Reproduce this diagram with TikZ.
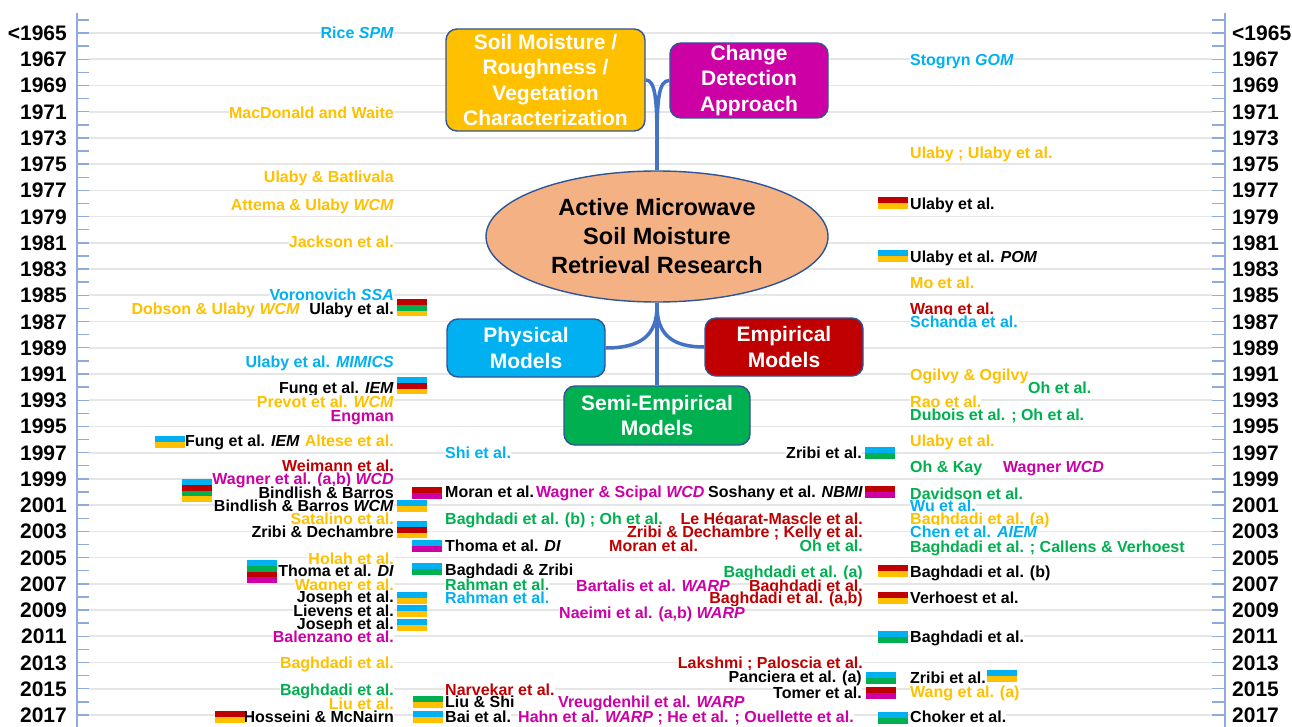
\documentclass[tikz,border=0pt]{standalone}
\usepackage{fontspec}
\setmainfont{Liberation Sans}
\usetikzlibrary{shapes.geometric}
\definecolor{cBlue}{RGB}{0,176,240}
\definecolor{cYellow}{RGB}{255,192,0}
\definecolor{cRed}{RGB}{192,0,0}
\definecolor{cGreen}{RGB}{0,176,80}
\definecolor{cMag}{RGB}{204,0,165}
\definecolor{cLink}{RGB}{68,114,196}
\definecolor{cBorder}{RGB}{47,85,151}
\definecolor{cEll}{RGB}{244,177,131}
\definecolor{cGrid}{RGB}{230,230,230}
\definecolor{cAxis}{RGB}{143,170,220}
\newcommand\entfont{\fontsize{16}{18}\selectfont\bfseries}
\newcommand\yearfont{\fontsize{21}{24}\selectfont\bfseries}
\newcommand\flagbar[3]{%
  \foreach \c [count=\i from 0] in {#3}{\fill[\c] (#1,#2+\i*5.8) rectangle ++(30,5.8);}}
\tikzset{
  entry/.style={font=\entfont, inner xsep=0pt, inner ysep=0.8pt, text height=11.5pt, text depth=0pt, text=black, fill=white},
  le/.style={entry, anchor=east},
  re/.style={entry, anchor=west},
  yearL/.style={font=\yearfont, inner sep=0pt, text height=15pt, text depth=0pt, anchor=east},
  yearR/.style={font=\yearfont, inner sep=0pt, text height=15pt, text depth=0pt, anchor=west},
  grid/.style={draw=cGrid, line width=1.7pt},
  axis/.style={draw=cAxis, line width=1.4pt},
  box/.style={rectangle, rounded corners=11pt, draw=cBorder, line width=1.4pt, text=white,
    font=\fontsize{21}{25.5}\selectfont\bfseries, align=center, inner sep=0pt},
  link/.style={draw=cLink, line width=3.5pt}
}
\begin{document}
\begin{tikzpicture}[x=1pt,y=-1pt]
\fill[white] (0,0) rectangle (1292,727);
\useasboundingbox (0,0) rectangle (1292,727);
% grid lines
\foreach \k in {0,...,26}{\draw[grid] (89,33+26.23*\k) -- (1212,33+26.23*\k);}
% axes
\draw[axis] (77,13) -- (77,727);
\draw[axis] (1225,13) -- (1225,727);
\foreach \k in {-1,...,52}{
  \draw[axis] (77,33+13.115*\k) -- (89,33+13.115*\k);
  \draw[axis] (1212,33+13.115*\k) -- (1225,33+13.115*\k);}
% year labels
\node[yearL] (yl0) at (67,33) {<1965};
\node[yearR] (yr0) at (1232,33) {<1965};
\foreach \k in {1,...,26}{
  \pgfmathtruncatemacro\yv{1965+2*\k}
  \node[yearL] (yl\k) at (67,33+26.23*\k) {\yv};
  \node[yearR] (yr\k) at (1232,33+26.23*\k) {\yv};}
% central nodes
\node[box, fill=cYellow, minimum width=199pt, minimum height=102pt] (soil) at (545.5,80) {Soil Moisture /\\Roughness /\\Vegetation\\Characterization};
\node[box, fill=cMag, minimum width=158pt, minimum height=75pt] (cda) at (749,80.5) {Change\\Detection\\Approach};
\node[ellipse, draw=cBorder, line width=1.4pt, fill=cEll, minimum width=342pt, minimum height=131pt, inner sep=0pt,
  font=\fontsize{23.5}{29}\selectfont\bfseries, align=center] (ell) at (657,236.5) {Active Microwave\\Soil Moisture\\Retrieval Research};
\node[box, fill=cBlue, minimum width=158pt, minimum height=58pt] (phys) at (526,348) {Physical\\Models};
\node[box, fill=cRed, minimum width=158pt, minimum height=58pt] (emp) at (784,347) {Empirical\\Models};
\node[box, fill=cGreen, minimum width=186pt, minimum height=59pt] (semi) at (657,415.5) {Semi-Empirical\\Models};
% connectors
\coordinate (topj) at (657,140);
\coordinate (botj) at (657,306);
\draw[link] (ell.north) -- (topj);
\draw[link] (topj) .. controls (657,98) and (655,80) .. (soil.east);
\draw[link] (topj) .. controls (657,98) and (659,80.5) .. (cda.west);
\draw[link] (ell.south) -- (semi.north);
\draw[link] (botj) .. controls (657,336) and (640,348) .. (phys.east);
\draw[link] (botj) .. controls (657,336) and (674,347) .. (emp.west);
% left column
\node[le, text=cBlue] (l1) at (394,33) {Rice \textit{SPM}};
\node[le, text=cYellow] (l2) at (394,113) {MacDonald and Waite};
\node[le, text=cYellow] (l3) at (394,177) {Ulaby \& Batlivala};
\node[le, text=cYellow] (l4) at (394,205) {Attema \& Ulaby \textit{WCM}};
\node[le, text=cYellow] (l5) at (394,242) {Jackson et al.};
\node[le, text=cBlue] (l6) at (394,295) {Voronovich \textit{SSA}};
\node[le, text=cYellow] (l7) at (300,309) {Dobson \& Ulaby \textit{WCM}};
\node[le] (l8) at (394,309) {Ulaby et al.};
\flagbar{397}{299}{cRed,cGreen,cYellow}
\node[le, text=cBlue] (l9) at (394,362) {Ulaby et al. \textit{MIMICS}};
\node[le] (l10) at (394,388) {Fung et al. \textit{IEM}};
\flagbar{397}{377}{cBlue,cRed,cYellow}
\node[le, text=cYellow] (l11) at (394,402) {Prevot et al. \textit{WCM}};
\node[le, text=cMag] (l12) at (394,416) {Engman};
\node[le] (l13) at (300,441) {Fung et al. \textit{IEM}};
\flagbar{155}{436}{cBlue,cYellow}
\node[le, text=cYellow] (l14) at (394,441) {Altese et al.};
\node[le, text=cRed] (l15) at (394,466) {Weimann et al.};
\node[le, text=cMag] (l16) at (394,479) {Wagner et al. (a,b) \textit{WCD}};
\node[le] (l17) at (394,493) {Bindlish \& Barros};
\flagbar{182}{479}{cBlue,cRed,cGreen,cYellow}
\node[le] (l18) at (394,506) {Bindlish \& Barros \textit{WCM}};
\flagbar{397}{500}{cBlue,cYellow}
\node[le, text=cYellow] (l19) at (394,519) {Satalino et al.};
\node[le] (l20) at (394,532) {Zribi \& Dechambre};
\flagbar{397}{521}{cBlue,cRed,cYellow}
\node[le, text=cYellow] (l21) at (394,559) {Holah et al.};
\node[le] (l22) at (394,571) {Thoma et al. \textit{DI}};
\flagbar{247}{560}{cBlue,cGreen,cRed,cMag}
\node[le, text=cYellow] (l23) at (394,585) {Wagner et al.};
\node[le] (l24) at (394,597) {Joseph et al.};
\flagbar{397}{592}{cBlue,cYellow}
\node[le] (l25) at (394,611) {Lievens et al.};
\flagbar{397}{605}{cBlue,cYellow}
\node[le] (l26) at (394,624) {Joseph et al.};
\flagbar{397}{619}{cBlue,cYellow}
\node[le, text=cMag] (l27) at (394,637) {Balenzano et al.};
\node[le, text=cYellow] (l28) at (394,663) {Baghdadi et al.};
\node[le, text=cGreen] (l29) at (394,690) {Baghdadi et al.};
\node[le, text=cYellow] (l30) at (394,704) {Liu et al.};
\node[le] (l31) at (394,717) {Hosseini \& McNairn};
\flagbar{215}{711}{cRed,cYellow}
% middle-left column
\node[re, text=cBlue] (m1) at (445,453) {Shi et al.};
\node[re] (m2) at (445,492) {Moran et al.};
\flagbar{412}{487}{cRed,cMag}
\node[re, text=cGreen] (m3) at (445,519) {Baghdadi et al. (b) ; Oh et al.};
\node[re] (m4) at (445,546) {Thoma et al. \textit{DI}};
\flagbar{412}{540}{cBlue,cMag}
\node[re] (m5) at (445,570) {Baghdadi \& Zribi};
\flagbar{412}{563}{cBlue,cGreen}
\node[re, text=cGreen] (m6) at (445,585) {Rahman et al.};
\node[re, text=cBlue] (m7) at (445,598) {Rahman et al.};
\node[re, text=cRed] (m8) at (445,690) {Narvekar et al.};
\node[re] (m9) at (445,702) {Liu \& Shi};
\flagbar{413}{696}{cGreen,cYellow}
\node[re] (m10) at (445,717) {Bai et al.};
\flagbar{413}{711}{cBlue,cYellow}
% middle
\node[re, text=cMag] (c1) at (536,492) {Wagner \& Scipal \textit{WCD}};
\node[re] (c2) at (708,492) {Soshany et al. \textit{NBMI}};
\flagbar{865}{486}{cRed,cMag}
\node[le, text=cRed] (c3) at (863,519) {Le Hégarat-Mascle et al.};
\node[le, text=cRed] (c4) at (863,532) {Zribi \& Dechambre ; Kelly et al.};
\node[re, text=cRed] (c5) at (609,546) {Moran et al.};
\node[le, text=cGreen] (c6) at (863,546) {Oh et al.};
\node[le] (c7) at (862,453) {Zribi et al.};
\flagbar{865}{447}{cBlue,cGreen}
\node[le, text=cGreen] (c8) at (863,572) {Baghdadi et al. (a)};
\node[re, text=cMag] (c9) at (576,586) {Bartalis et al. \textit{WARP}};
\node[le, text=cRed] (c10) at (863,586) {Baghdadi et al.};
\node[le, text=cRed] (c11) at (863,598) {Baghdadi et al. (a,b)};
\node[re, text=cMag] (c12) at (559,613) {Naeimi et al. (a,b) \textit{WARP}};
\node[le, text=cRed] (c13) at (863,663) {Lakshmi ; Paloscia et al.};
\node[le] (c14) at (862,677) {Panciera et al. (a)};
\flagbar{866}{672}{cBlue,cGreen}
\node[le] (c15) at (862,693) {Tomer et al.};
\flagbar{866}{687}{cRed,cMag}
\node[re, text=cMag] (c16) at (558,702) {Vreugdenhil et al. \textit{WARP}};
\node[re, text=cMag] (c17) at (518,717) {Hahn et al. \textit{WARP} ; He et al. ; Ouellette et al.};
% right column
\node[re, text=cBlue] (r1) at (910,60) {Stogryn \textit{GOM}};
\node[re, text=cYellow] (r2) at (910,153) {Ulaby ; Ulaby et al.};
\node[re] (r3) at (910,204) {Ulaby et al.};
\flagbar{878}{197}{cRed,cYellow}
\node[re] (r4) at (910,257) {Ulaby et al. \textit{POM}};
\flagbar{878}{250}{cBlue,cYellow}
\node[re, text=cYellow] (r5) at (910,283) {Mo et al.};
\node[re, text=cRed] (r6) at (910,309) {Wang et al.};
\node[re, text=cBlue] (r7) at (910,322) {Schanda et al.};
\node[re, text=cYellow] (r8) at (910,375) {Ogilvy \& Ogilvy};
\node[re, text=cGreen] (r9) at (1028,388) {Oh et al.};
\node[re, text=cYellow] (r10) at (910,402) {Rao et al.};
\node[re, text=cGreen] (r11) at (910,415) {Dubois et al. ; Oh et al.};
\node[re, text=cYellow] (r12) at (910,441) {Ulaby et al.};
\node[re, text=cGreen] (r13) at (910,467) {Oh \& Kay};
\node[re, text=cMag] (r14) at (1003,467) {Wagner \textit{WCD}};
\node[re, text=cGreen] (r15) at (910,494) {Davidson et al.};
\node[re, text=cBlue] (r16) at (910,506) {Wu et al.};
\node[re, text=cYellow] (r17) at (910,519) {Baghdadi et al. (a)};
\node[re, text=cBlue] (r18) at (910,532) {Chen et al. \textit{AIEM}};
\node[re, text=cGreen] (r19) at (910,547) {Baghdadi et al. ; Callens \& Verhoest};
\node[re] (r20) at (910,572) {Baghdadi et al. (b)};
\flagbar{878}{565}{cRed,cYellow}
\node[re] (r21) at (910,598) {Verhoest et al.};
\flagbar{878}{592}{cRed,cYellow}
\node[re] (r22) at (910,637) {Baghdadi et al.};
\flagbar{878}{631}{cBlue,cGreen}
\node[re] (r23) at (910,678) {Zribi et al.};
\flagbar{987}{670}{cBlue,cYellow}
\node[re, text=cYellow] (r24) at (910,692) {Wang et al. (a)};
\node[re] (r25) at (910,717) {Choker et al.};
\flagbar{878}{712}{cBlue,cGreen}
\end{tikzpicture}
\end{document}
